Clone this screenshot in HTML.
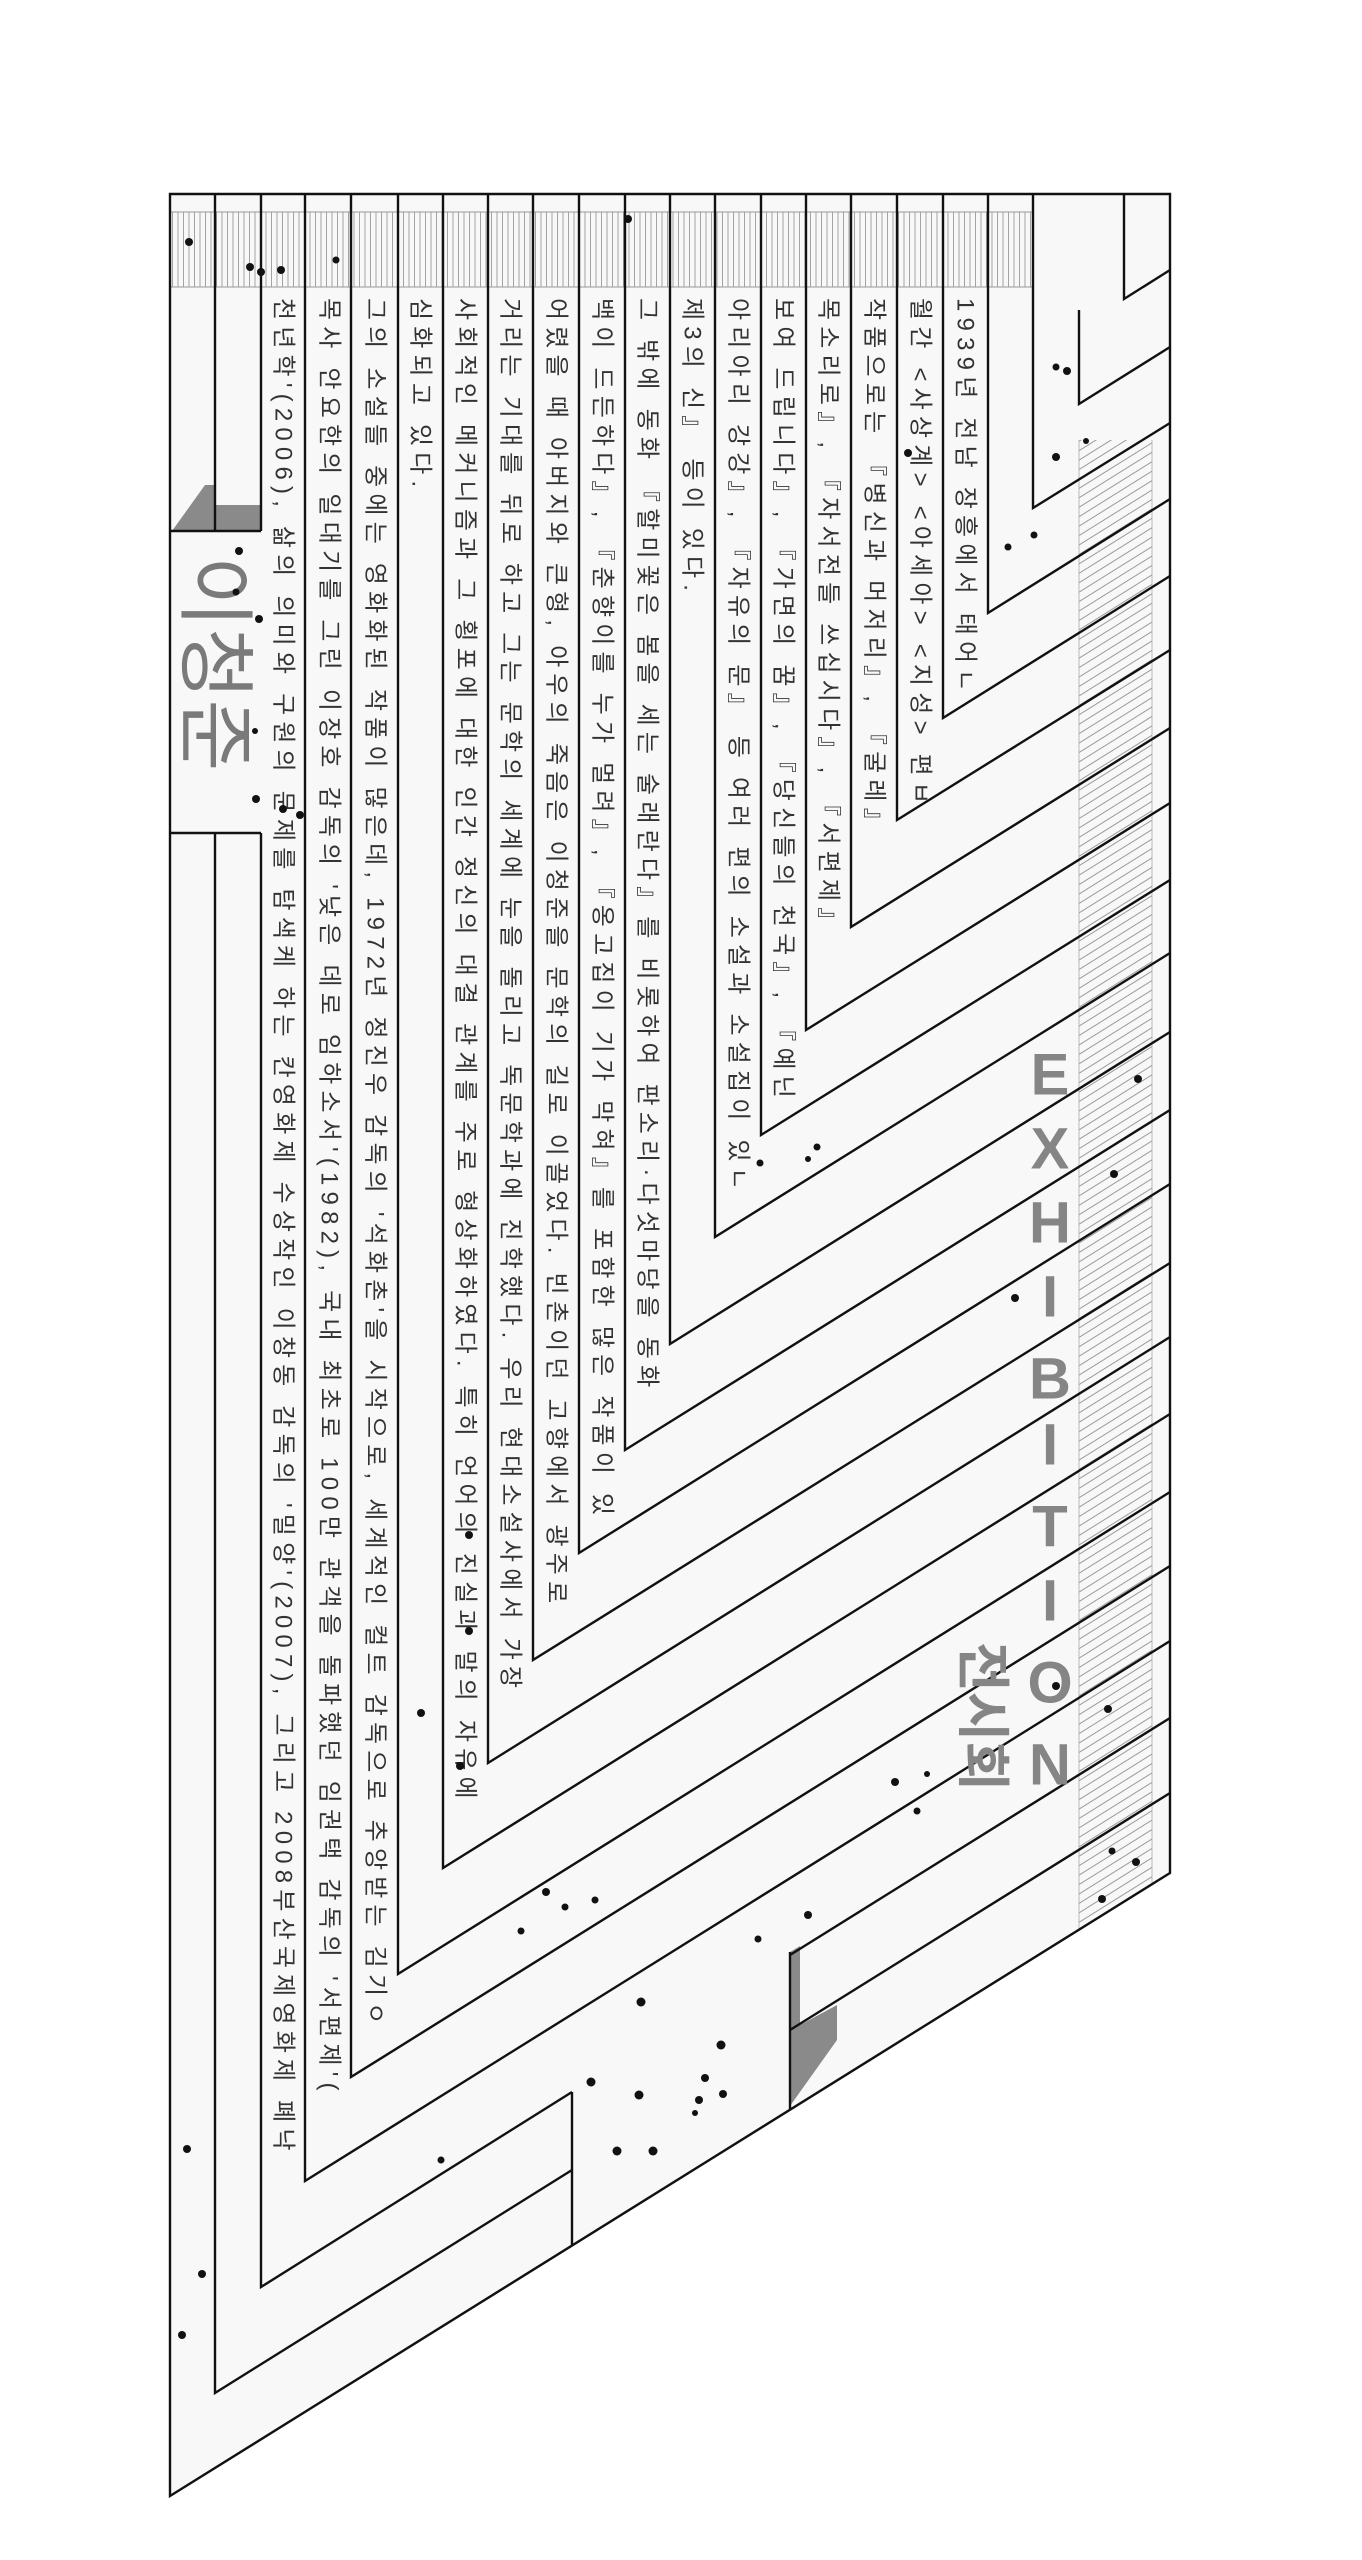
<!DOCTYPE html>
<html><head><meta charset="utf-8">
<style>
html,body{margin:0;padding:0;background:#fff;}
svg{display:block;}
.t{font-family:"Liberation Sans","Noto Sans CJK KR",sans-serif;font-size:24px;fill:#333;letter-spacing:6.2px;}
</style></head>
<body>
<svg width="1362" height="2560" viewBox="0 0 1362 2560" xmlns="http://www.w3.org/2000/svg">
<defs>
<pattern id="vs" width="5.5" height="10" patternUnits="userSpaceOnUse">
<line x1="2" y1="0" x2="2" y2="10" stroke="#9a9a9a" stroke-width="0.9"/>
</pattern>
<pattern id="ds" width="20" height="8" patternUnits="userSpaceOnUse" patternTransform="rotate(-32)">
<line x1="0" y1="2" x2="20" y2="2" stroke="#9a9a9a" stroke-width="0.9"/>
</pattern>
<clipPath id="fr"><path d="M170,194 H1170 V1873 L170,2496 Z"/></clipPath>
</defs>

<path d="M170,194 H1170 V1873 L170,2496 Z" fill="#f8f8f8"/>

<rect x="170" y="212" width="864" height="75" fill="url(#vs)"/>
<line x1="170" y1="212" x2="1034" y2="212" stroke="#999" stroke-width="1"/>
<line x1="170" y1="287" x2="1034" y2="287" stroke="#999" stroke-width="1"/>

<g clip-path="url(#fr)">
<rect x="1079" y="440" width="73" height="1500" fill="url(#ds)"/>
<line x1="1079" y1="440" x2="1079" y2="1930" stroke="#aaa" stroke-width="0.8"/>
<line x1="1152" y1="440" x2="1152" y2="1930" stroke="#aaa" stroke-width="0.8"/>
</g>

<polygon points="172,531 205,485 215,485 215,505 261,505 261,531" fill="#8a8a8a"/>
<polygon points="790,1952 800,1946 800,2025 837,2005 837,2040 790,2106" fill="#8a8a8a"/>

<g fill="none" stroke="#111" stroke-width="2.4" stroke-linejoin="miter">
<path d="M170,194 H1170 V1873 L170,2496 Z"/>
<path d="M215,194 V531 M215,833 V2393 L572,2170"/>
<path d="M261,194 V531 M261,833 V2287 L572,2092"/>
<path d="M572,2092 V2245"/>
<path d="M170,531 H261 M170,833 H261"/>
<path d="M305,194 V2181 L1170,1641"/>
<path d="M351,194 V2077 L1170,1566"/>
<path d="M398,194 V1974 L1170,1492"/>
<path d="M443,194 V1868 L1170,1414"/>
<path d="M488,194 V1763 L1170,1337"/>
<path d="M533,194 V1660 L1170,1263"/>
<path d="M579,194 V1553 L1170,1184"/>
<path d="M625,194 V1450 L1170,1110"/>
<path d="M670,194 V1344 L1170,1032"/>
<path d="M715,194 V1237 L1170,953"/>
<path d="M761,194 V1135 L1170,880"/>
<path d="M806,194 V1030 L1170,803"/>
<path d="M851,194 V927 L1170,728"/>
<path d="M897,194 V820 L1170,650"/>
<path d="M943,194 V718 L1170,576"/>
<path d="M988,194 V613 L1170,499"/>
<path d="M1033,194 V508 L1170,423"/>
<path d="M1079,310 V404 L1170,347"/>
<path d="M1124,194 V299 L1170,270"/>
<path d="M790,1952 V2109 M790,1955 L1170,1718 M790,2030 L1170,1793"/>
</g>

<g class="t" dominant-baseline="central">
<text x="283" y="298" transform="rotate(90 283 298)">천년학'(2006), 삶의 의미와 구원의 문제를 탐색케 하는 칸영화제 수상작인 이창동 감독의 '밀양'(2007), 그리고 2008부산국제영화제 폐낙</text>
<text x="329" y="298" transform="rotate(90 329 298)">목사 안요한의 일대기를 그린 이장호 감독의 '낮은 데로 임하소서'(1982), 국내 최초로 100만 관객을 돌파했던 임권택 감독의 '서편제'(</text>
<text x="375" y="298" transform="rotate(90 375 298)">그의 소설들 중에는 영화화된 작품이 많은데, 1972년 정진우 감독의 '석화촌'을 시작으로, 세계적인 컬트 감독으로 추앙받는 김기ㅇ</text>
<text x="420" y="298" transform="rotate(90 420 298)">심화되고 있다.</text>
<text x="465" y="298" transform="rotate(90 465 298)">사회적인 메커니즘과 그 횡포에 대한 인간 정신의 대결 관계를 주로 형상화하였다. 특히 언어의 진실과 말의 자유에</text>
<text x="510" y="298" transform="rotate(90 510 298)">거리는 기대를 뒤로 하고 그는 문학의 세계에 눈을 돌리고 독문학과에 진학했다. 우리 현대소설사에서 가장</text>
<text x="556" y="298" transform="rotate(90 556 298)">어렸을 때 아버지와 큰형, 아우의 죽음은 이청준을 문학의 길로 이끌었다. 빈촌이던 고향에서 광주로</text>
<text x="602" y="298" transform="rotate(90 602 298)">백이 드든하다』, 『춘향이를 누가 멀려』, 『옹고집이 기가 막혀』를 포함한 많은 작품이 있</text>
<text x="647" y="298" transform="rotate(90 647 298)">그 밖에 동화 『할미꽃은 봄을 세는 술래란다』를 비롯하여 판소리·다섯마당을 동화</text>
<text x="692" y="298" transform="rotate(90 692 298)">제3의 신』 등이 있다.</text>
<text x="738" y="298" transform="rotate(90 738 298)">아리아리 강강』, 『자유의 문』 등 여러 편의 소설과 소설집이 있ㄴ</text>
<text x="783" y="298" transform="rotate(90 783 298)">보여 드립니다』, 『가면의 꿈』, 『당신들의 천국』, 『예닌</text>
<text x="828" y="298" transform="rotate(90 828 298)">목소리로』, 『자서전들 쓰십시다』, 『서편제』</text>
<text x="874" y="298" transform="rotate(90 874 298)">작품으로는 『병신과 머저리』, 『굴레』</text>
<text x="920" y="298" transform="rotate(90 920 298)">월간 &lt;사상계&gt; &lt;아세아&gt; &lt;지성&gt; 편ㅂ</text>
<text x="965" y="298" transform="rotate(90 965 298)">1939년 전남 장흥에서 태어ㄴ</text>
</g>

<text x="215" y="556" transform="rotate(90 215 556)" dominant-baseline="central" font-family="Liberation Sans,Noto Sans CJK KR,sans-serif" font-size="78" fill="#7a7a7a">이청준</text>

<g font-family="Liberation Sans,sans-serif" font-size="58" font-weight="bold" fill="#858585" text-anchor="middle" dominant-baseline="central">
<text x="1050" y="1075">E</text>
<text x="1050" y="1149">X</text>
<text x="1050" y="1223">H</text>
<text x="1050" y="1297">I</text>
<text x="1050" y="1379">B</text>
<text x="1050" y="1445">I</text>
<text x="1050" y="1527">T</text>
<text x="1050" y="1601">I</text>
<text x="1050" y="1683">O</text>
<text x="1050" y="1765">N</text>
</g>
<text x="982" y="1642" transform="rotate(90 982 1642)" dominant-baseline="central" font-family="Liberation Sans,Noto Sans CJK KR,sans-serif" font-size="54" font-weight="bold" fill="#858585">전시회</text>

<g fill="#111">
<circle cx="189" cy="242" r="4"/><circle cx="250" cy="267" r="4"/><circle cx="261" cy="272" r="4"/><circle cx="281" cy="270" r="4"/>
<circle cx="336" cy="260" r="3.5"/><circle cx="628" cy="219" r="4"/><circle cx="1056" cy="367" r="3.5"/><circle cx="1067" cy="371" r="4"/>
<circle cx="1086" cy="441" r="3"/><circle cx="1056" cy="457" r="4"/><circle cx="1034" cy="535" r="3.5"/><circle cx="1008" cy="547" r="3.5"/>
<circle cx="908" cy="453" r="4"/><circle cx="239" cy="551" r="4"/><circle cx="1138" cy="1079" r="4"/><circle cx="1114" cy="1174" r="4"/>
<circle cx="760" cy="1163" r="3.5"/><circle cx="817" cy="1147" r="3.5"/><circle cx="808" cy="1159" r="3"/><circle cx="1015" cy="1298" r="4"/>
<circle cx="421" cy="1713" r="4"/><circle cx="1108" cy="1709" r="4"/><circle cx="1056" cy="1686" r="4"/><circle cx="895" cy="1782" r="4"/>
<circle cx="927" cy="1774" r="3"/><circle cx="917" cy="1811" r="3.5"/><circle cx="546" cy="1892" r="4"/><circle cx="565" cy="1907" r="3.5"/>
<circle cx="595" cy="1900" r="3.5"/><circle cx="521" cy="1931" r="3.5"/><circle cx="758" cy="1939" r="3.5"/><circle cx="808" cy="1915" r="4"/>
<circle cx="1112" cy="1851" r="3.5"/><circle cx="1136" cy="1862" r="4"/><circle cx="1102" cy="1899" r="4"/><circle cx="641" cy="2002" r="4.5"/>
<circle cx="721" cy="2045" r="4.5"/><circle cx="591" cy="2082" r="4.5"/><circle cx="639" cy="2095" r="4.5"/><circle cx="705" cy="2078" r="4"/>
<circle cx="699" cy="2100" r="4"/><circle cx="723" cy="2094" r="4"/><circle cx="695" cy="2113" r="3"/><circle cx="617" cy="2151" r="4.5"/>
<circle cx="653" cy="2151" r="4.5"/><circle cx="441" cy="2160" r="3.5"/><circle cx="187" cy="2149" r="4"/><circle cx="202" cy="2274" r="4"/>
<circle cx="182" cy="2335" r="4"/><circle cx="469" cy="1535" r="4"/><circle cx="469" cy="1631" r="4"/><circle cx="460" cy="1766" r="4"/>
<circle cx="236" cy="592" r="3.5"/><circle cx="259" cy="619" r="4"/><circle cx="256" cy="799" r="4"/><circle cx="255" cy="731" r="3"/>
<circle cx="283" cy="809" r="4"/><circle cx="300" cy="815" r="4"/>
</g>
</svg>
</body></html>
